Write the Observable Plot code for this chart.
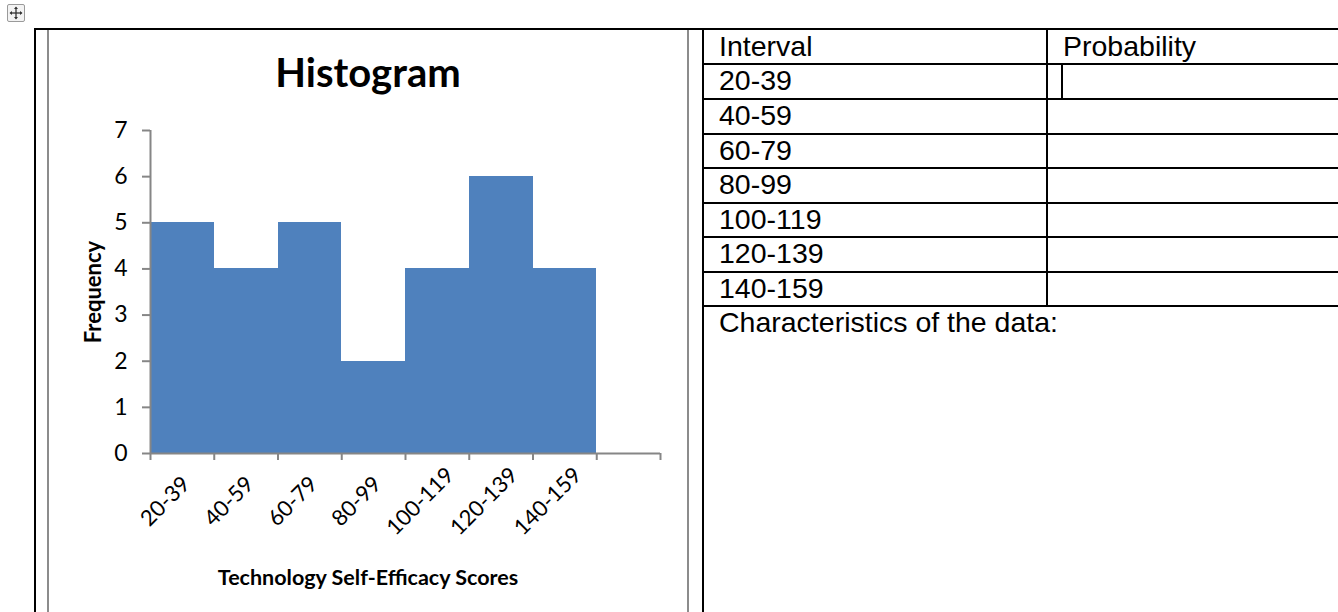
<!DOCTYPE html>
<html><head><meta charset="utf-8">
<script src="https://cdn.jsdelivr.net/npm/d3@7"></script>
<script src="https://cdn.jsdelivr.net/npm/@observablehq/plot@0.6"></script>
<style>
html,body{margin:0;padding:0;background:#fff;width:1338px;height:612px;overflow:hidden;}
body{position:relative;font-family:"Liberation Sans",Arial,sans-serif;color:#000;}
.hl{position:absolute;height:2px;background:#000;}
.vl{position:absolute;width:2px;background:#000;}
.gl{position:absolute;width:2px;background:#8c8c8c;}
.cell{position:absolute;font-size:28.5px;line-height:34px;white-space:nowrap;}
.ct{position:absolute;font-family:Lato,"Open Sans",sans-serif;font-weight:bold;white-space:nowrap;}
#chart{position:absolute;left:49px;top:30px;}
#move{position:absolute;left:7px;top:4px;width:16px;height:16px;border:1px solid #9a9a9a;border-radius:2px;background:#f3f3f3;}
</style></head><body>
<div id="move"><svg width="16" height="16" viewBox="0 0 16 16"><g stroke="#333" stroke-width="1.3" fill="#333"><line x1="8" y1="2.5" x2="8" y2="13.5"/><line x1="2.5" y1="8" x2="13.5" y2="8"/><path d="M8 1.5 L6 4 L10 4 Z" stroke="none"/><path d="M8 14.5 L6 12 L10 12 Z" stroke="none"/><path d="M1.5 8 L4 6 L4 10 Z" stroke="none"/><path d="M14.5 8 L12 6 L12 10 Z" stroke="none"/></g></svg></div>
<div id="chart"></div>
<script>
// ---- data ----
const categories = ["20-39", "40-59", "60-79", "80-99", "100-119", "120-139", "140-159"];
const frequencies = [5, 4, 5, 2, 4, 6, 4];
const yTicks = [0, 1, 2, 3, 4, 5, 6, 7];
const chartTitle = "Histogram";
const xAxisLabel = "Technology Self-Efficacy Scores";
const yAxisLabel = "Frequency";
const tableHeaders = ["Interval", "Probability"];
const footerText = "Characteristics of the data:";

// ---- chart ----
const nBins = categories.length + 1; // Excel leaves one empty slot at the end
const rows = categories.map((c, i) => ({cat: c, lo: i, hi: i + 1, mid: i + 0.5, f: frequencies[i]}));
const edges = d3.range(nBins + 1);

const chart = Plot.plot({
  width: 638, height: 582,
  marginLeft: 101, marginRight: 27, marginTop: 100, marginBottom: 159,
  style: {fontFamily: "Lato, 'Open Sans', sans-serif", fontSize: "22px", color: "#000", background: "transparent", overflow: "visible"},
  x: {domain: [0, nBins], axis: null},
  y: {domain: [0, 7], axis: null},
  marks: [
    Plot.rectY(rows, {x1: "lo", x2: "hi", y1: 0, y2: "f", fill: "#4F81BD", shapeRendering: "crispEdges"}),
    Plot.ruleX([0], {y1: 0, y2: 7, stroke: "#868686", strokeWidth: 2}),
    Plot.ruleY([0], {x1: 0, x2: nBins, stroke: "#868686", strokeWidth: 2}),
    Plot.axisY({ticks: yTicks, tickSize: 8, stroke: "#868686", strokeWidth: 2, tickFormat: () => "", label: null}),
    Plot.text(yTicks, {x: 0, y: d => d, text: d => String(d), textAnchor: "end", dx: -23, fontSize: "23px", fill: "#000"}),
    Plot.axisX({ticks: edges, tickSize: 7, stroke: "#868686", strokeWidth: 2, tickFormat: () => "", label: null}),
    Plot.text(rows, {x: "mid", y: 0, text: "cat", rotate: -45, textAnchor: "middle", dx: -17, dy: 48, fontSize: "22px", fill: "#000"})
  ]
});
document.getElementById("chart").appendChild(chart);

// ---- labels & table ----
function add(cls, text, style) {
  const d = document.createElement("div");
  d.className = cls;
  if (text != null) d.textContent = text;
  Object.assign(d.style, style);
  document.body.appendChild(d);
  return d;
}
add("ct", chartTitle, {left: "48px", width: "640px", textAlign: "center", top: "52px", fontSize: "40px", lineHeight: "40px"});
add("ct", xAxisLabel, {left: "48px", width: "640px", textAlign: "center", top: "566px", fontSize: "21.5px", lineHeight: "22px"});
add("ct", yAxisLabel, {left: "93px", top: "292px", fontSize: "22px", lineHeight: "22px", transform: "translate(-50%,-50%) rotate(-90deg)"});

// frame lines
add("hl", null, {left: "35px", top: "28px", width: "1303px"});
add("vl", null, {left: "34px", top: "28px", height: "584px"});
add("gl", null, {left: "47px", top: "30px", height: "582px"});
add("gl", null, {left: "687px", top: "30px", height: "582px"});
add("vl", null, {left: "702px", top: "28px", height: "584px"});

// right table
const lineYs = [29, 63, 98, 133, 167, 202, 236, 271, 305];
add("cell", tableHeaders[0], {left: "719px", top: lineYs[0] + "px"});
add("cell", tableHeaders[1], {left: "1063px", top: lineYs[0] + "px"});
categories.forEach((c, i) => add("cell", c, {left: "719px", top: lineYs[i + 1] + "px"}));
add("cell", footerText, {left: "719px", top: lineYs[lineYs.length - 1] + "px"});
lineYs.slice(1).forEach(y => add("hl", null, {left: "704px", top: y + "px", width: "634px"}));
add("vl", null, {left: "1046px", top: "29px", height: "278px"});
add("vl", null, {left: "1061px", top: "64px", height: "34px"});
</script>
</body></html>
